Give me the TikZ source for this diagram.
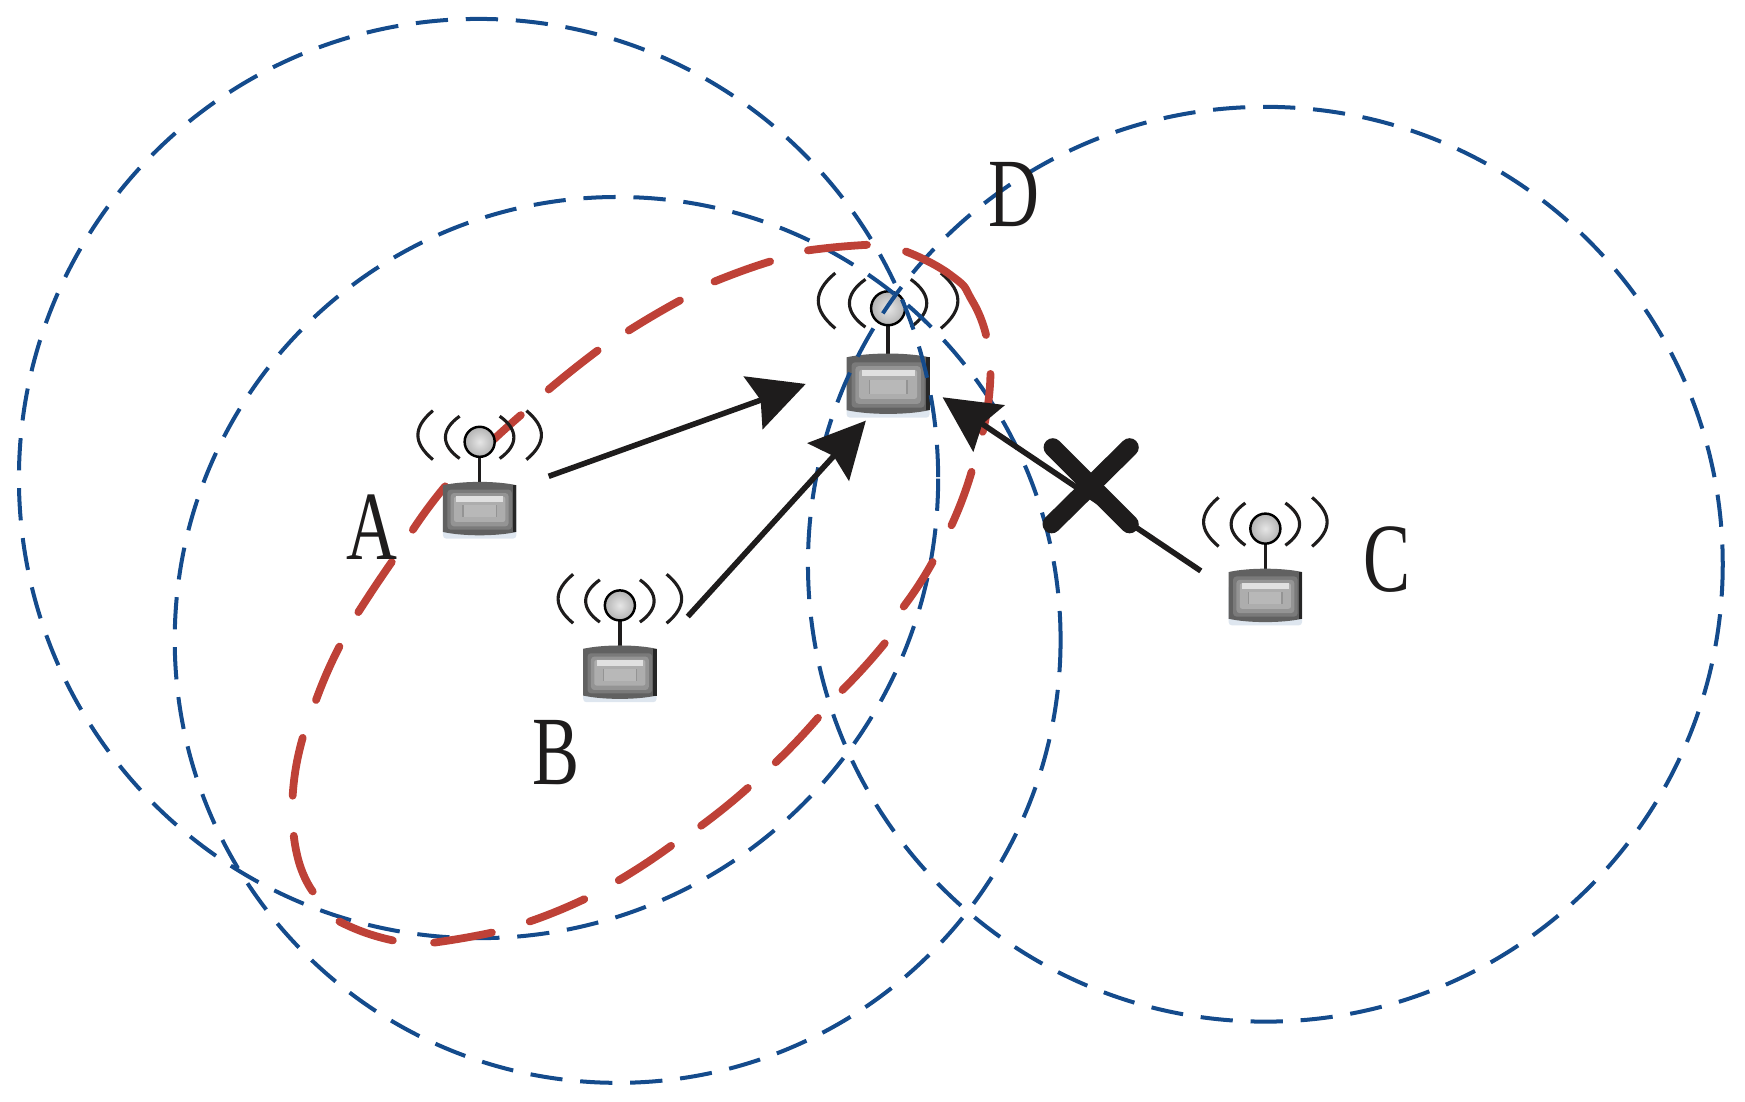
\documentclass[tikz,border=0pt]{standalone}
\usepackage{fontspec}
\setmainfont{Liberation Serif}
\usetikzlibrary{arrows.meta}
\definecolor{bl}{RGB}{20,75,140}
\definecolor{rd}{RGB}{190,65,55}
\definecolor{ink}{RGB}{30,28,28}
\tikzset{
 x=1pt,y=-1pt,
 bluec/.style={draw=bl,line width=3.6pt,dash pattern=on 29pt off 16pt},
 redc/.style={draw=rd,line width=7pt,line cap=round},
 arr/.style={draw=ink,line width=5pt,-{Stealth[length=50pt,width=50pt,inset=7pt]}},
 crossarm/.style={draw=ink,line width=16.5pt,line cap=round},
 lab/.style={inner sep=0pt,text=ink,font=\fontsize{88}{88}\selectfont},
 wav/.style={draw=ink,line width=2.8pt},
 pics/device/.style={code={
   \draw[wav] (-18,-23) .. controls (-35,-11) and (-35,3) .. (-18,15);
   \draw[wav] (18,-23) .. controls (35,-11) and (35,3) .. (18,15);
   \draw[wav] (-42,-28) .. controls (-60,-13) and (-60,1) .. (-42,16);
   \draw[wav] (42,-28) .. controls (60,-13) and (60,1) .. (42,16);
   \draw[ink,line width=3pt] (0,10) -- (0,38);
   \fill[bl!14,rounded corners=3pt] (-33,50) rectangle (33,87);
   \fill[black!62] (-33,39) .. controls (-15,35) and (15,35) .. (33,39) -- (33,81) .. controls (15,85) and (-15,85) .. (-33,81) -- cycle;
   \fill[black!85] (30,39) rectangle (33,81);
   \fill[black!52,rounded corners=3pt] (-29,43) rectangle (29,79);
   \fill[black!42,rounded corners=3pt] (-26,46) rectangle (26,76);
   \fill[black!32,rounded corners=2pt] (-23,49) rectangle (23,72);
   \fill[black!12] (-21,49) rectangle (21,54);
   \fill[black!28] (-15,57) rectangle (15,68);
   \draw[black!42,line width=1.2pt] (-15,57) -- (-15,68) (15,57) -- (15,68);
   \shade[inner color=gray!20,outer color=gray!60] (0,0) circle (13.5);
   \draw[black,line width=2.2pt] (0,0) circle (13.5);
 }}
}
\begin{document}
\begin{tikzpicture}
\useasboundingbox (0,0) rectangle (1568,989.4);
\coordinate (pa) at (431,397);
\coordinate (pb) at (557,544);
\coordinate (pc) at (1137,475);
\coordinate (pd) at (798,277);
\pic[scale=1.13] at (pd) {device};
\draw[bluec] (430,430) circle (413);
\draw[bluec] (555,575) circle (398);
\draw[bluec] (1137,507) circle (411);
\draw[redc] plot[smooth,tension=1] coordinates {(814,226) (854,247) (874,271) (886,301)};
\draw[redc] plot[smooth,tension=1] coordinates {(779,220) (752,222) (726,225)};
\draw[redc] plot[smooth,tension=1] coordinates {(692,235) (668,243) (642,253)};
\draw[redc] plot[smooth,tension=1] coordinates {(611,270) (588,283) (565,297)};
\draw[redc] plot[smooth,tension=1] coordinates {(537,315) (515,332) (493,350)};
\draw[redc] plot[smooth,tension=1] coordinates {(468,373) (450,389) (432,406)};
\draw[redc] plot[smooth,tension=1] coordinates {(400,437) (385,456) (371,476)};
\draw[redc] plot[smooth,tension=1] coordinates {(352,505) (337,527) (322,550)};
\draw[redc] plot[smooth,tension=1] coordinates {(305,581) (294,604) (284,629)};
\draw[redc] plot[smooth,tension=1] coordinates {(272,663) (266,689) (263,715)};
\draw[redc] plot[smooth,tension=1] coordinates {(264,751) (270,779) (281,801)};
\draw[redc] plot[smooth,tension=1] coordinates {(305,828) (328,838) (353,845)};
\draw[redc] plot[smooth,tension=1] coordinates {(390,847) (416,843) (442,838)};
\draw[redc] plot[smooth,tension=1] coordinates {(476,828) (500,819) (525,808)};
\draw[redc] plot[smooth,tension=1] coordinates {(556,791) (580,776) (603,760)};
\draw[redc] plot[smooth,tension=1] coordinates {(630,742) (652,725) (672,708)};
\draw[redc] plot[smooth,tension=1] coordinates {(697,685) (716,666) (735,645)};
\draw[redc] plot[smooth,tension=1] coordinates {(757,620) (777,599) (795,578)};
\draw[redc] plot[smooth,tension=1] coordinates {(812,545) (826,525) (838,505)};
\draw[redc] plot[smooth,tension=1] coordinates {(855,472) (865,448) (873,424)};
\draw[redc] plot[smooth,tension=1] coordinates {(883,388) (888,362) (890,336)};
\pic at (pa) {device};
\pic at (pb) {device};
\pic at (pc) {device};
\coordinate (a1) at (493,428); \coordinate (a2) at (724,345);
\coordinate (b1) at (618,554); \coordinate (b2) at (778,378);
\coordinate (c1) at (1079,513); \coordinate (c2) at (847,357);
\draw[arr] (a1) -- (a2);
\draw[arr] (b1) -- (b2);
\draw[arr] (c1) -- (c2);
\coordinate (x1) at (946,402); \coordinate (x2) at (1015,471);
\coordinate (x3) at (945,471); \coordinate (x4) at (1015,402);
\draw[crossarm] (x1) -- (x2);
\draw[crossarm] (x3) -- (x4);
\node[lab] (la) at (334,474) {\scalebox{0.72}[1]{A}};
\node[lab] (lb) at (500,676) {\scalebox{0.72}[1]{B}};
\node[lab] (lc) at (1246,503) {\scalebox{0.72}[1]{C}};
\node[lab] (ld) at (911,175) {\scalebox{0.72}[1]{D}};
\end{tikzpicture}
\end{document}
